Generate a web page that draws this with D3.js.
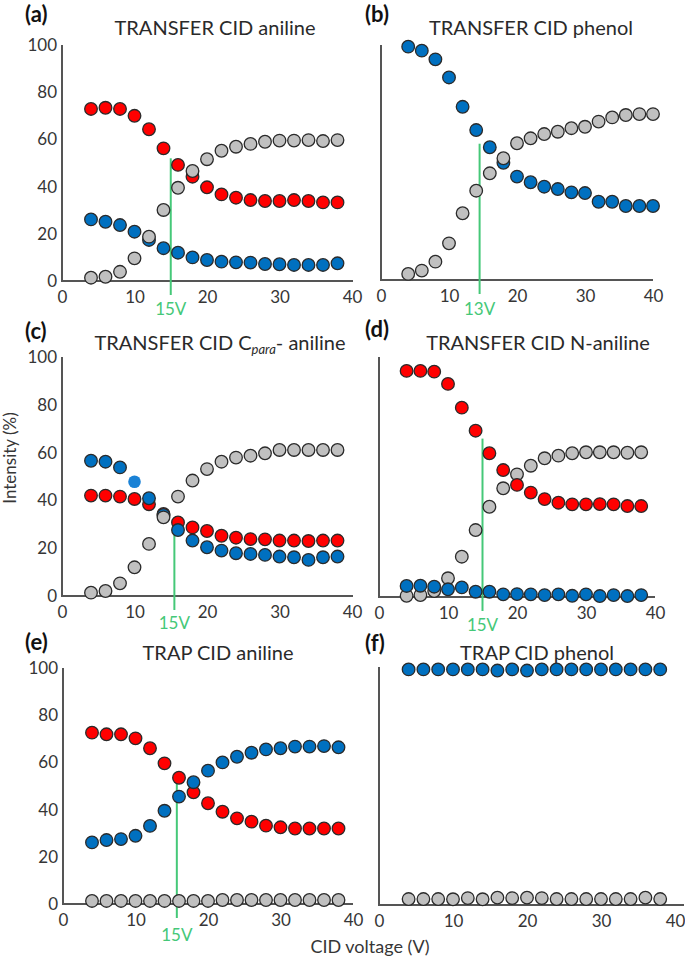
<!DOCTYPE html>
<html><head><meta charset="utf-8">
<script src="https://cdn.jsdelivr.net/npm/d3@7"></script>
<style>
body{margin:0;background:#fff;}
svg{display:block;font-family:Lato,"Open Sans",sans-serif;}
</style></head><body>
<svg id="chart" width="685" height="957"></svg>
<script>
// ---------- data ----------
const xs18 = [4,6,8,10,12,14,16,18,20,22,24,26,28,30,32,34,36,38];
const xs19 = [4,6,8,10,12,14,16,18,20,22,24,26,28,30,32,34,36,38,40];
const xTickVals = [0,10,20,30,40];
const yTickVals = [0,20,40,60,80,100];

const aRed  = [72.9,73.4,72.9,70.0,64.3,56.2,49.2,44.2,39.7,36.7,35.3,34.3,33.9,33.9,34.3,33.9,33.3,33.3];
const aBlue = [26.1,25.1,23.7,20.9,17.4,13.9,12.0,10.0,8.9,8.2,7.9,7.8,7.2,7.1,6.8,6.8,6.8,7.5];
const aGray = [1.4,1.8,3.9,9.6,18.8,30.1,39.5,46.6,51.6,55.2,56.9,58.1,59.0,59.5,59.5,59.7,59.3,59.7];

const bBlue = [99.3,97.6,93.9,86.2,73.7,63.8,56.5,49.9,44.0,41.6,39.7,38.7,37.3,37.0,33.3,33.3,31.5,31.5,31.5];
const bGray = [2.6,4.0,7.8,15.6,28.4,38.0,45.4,51.8,58.2,60.3,62.1,63.1,64.6,65.2,67.4,69.2,70.2,70.6,70.6];

const cRed  = [42.0,42.0,41.6,40.6,38.4,34.3,30.8,28.7,27.2,25.2,24.4,23.8,23.7,23.2,23.2,23.0,23.2,23.2];
const cBlue = [56.6,56.2,53.8,47.8,40.9,33.9,27.6,23.2,20.4,19.0,17.9,17.6,17.2,16.5,16.2,15.1,16.2,16.5];
const cGray = [1.4,2.1,5.3,12.0,21.8,32.9,41.6,48.3,53.1,56.2,57.9,58.7,59.7,61.1,61.1,61.1,61.1,61.1];

const dRed  = [94.2,94.2,93.9,88.8,78.9,69.3,59.9,52.9,46.7,43.5,40.8,39.3,38.6,38.6,38.7,38.6,37.9,37.9];
const dBlue = [4.6,4.7,4.3,3.2,4.0,2.2,2.2,1.1,1.2,1.1,0.8,1.1,0.5,1.1,0.4,0.8,0.4,0.8];
const dGray = [0.5,0.8,2.5,7.8,16.8,27.9,37.6,45.3,51.1,54.7,57.8,58.9,59.9,60.3,60.3,60.3,60.1,60.3];

const eRed  = [72.6,71.9,71.9,70.2,66.0,59.6,53.5,47.3,42.7,39.1,36.3,34.9,33.2,32.5,32.0,32.0,32.0,32.0];
const eBlue = [26.1,27.1,27.5,28.9,33.1,39.5,45.5,51.6,56.5,60.0,62.4,64.1,65.5,66.0,66.7,66.7,66.9,66.4];
const eGray = [1.3,1.3,1.3,1.3,1.3,1.3,1.3,1.3,1.3,1.7,1.7,1.7,1.7,1.7,1.7,1.7,1.7,1.7];

const fBlue = [99.0,99.0,99.0,99.0,99.0,99.0,98.5,99.0,98.5,99.0,99.0,99.0,99.0,99.0,99.0,99.0,99.0,99.0];
const fGray = [2.5,2.5,2.5,2.4,2.9,2.4,3.1,2.9,3.1,2.9,2.5,2.5,2.5,2.5,2.5,2.5,3.1,2.5];

const panelLetters = ["(a)","(b)","(c)","(d)","(e)","(f)"];
const panelTitles = ["TRANSFER CID aniline","TRANSFER CID phenol",null,"TRANSFER CID N-aniline","TRAP CID aniline","TRAP CID phenol"];
const markerX     = [15,14.5,15.5,15,15.7,null];
const markerTop   = [52,58,27,66,52.5,null];
const markerLabel = ["15V","13V","15V","15V","15V",null];

// ---------- styles / layout ----------
const COL = {red:"#ff0000", blue:"#0070c0", gray:"#c0c0c0"};
const GREEN = "#45c878";
const TXT = "#363636";
const AX = "#555555";

const panels = [
  {xr:[62,352], yr:[281,45], axEnd:353, showY:true, xs:xs18, series:[["red",aRed],["blue",aBlue],["gray",aGray]],
   letter:[25,22], title:[215,35], lblDy:28},
  {xr:[381,653], yr:[280,45], axEnd:653, showY:false, xs:xs19, series:[["blue",bBlue],["gray",bGray]],
   letter:[365,22], title:[531,35], lblDy:29},
  {xr:[62,352], yr:[596,357], axEnd:353, showY:true, xs:xs18, series:[["red",cRed],["blue",cBlue],["gray",cGray]],
   letter:[25,339], title:[220,350], lblDy:27, plain:{blue:3}},
  {xr:[379,655], yr:[597,357], axEnd:655, showY:false, xs:xs18, series:[["gray",dGray],["blue",dBlue],["red",dRed]],
   letter:[365,337], title:[538,350], lblDy:28},
  {xr:[63,353], yr:[904,668], axEnd:353, showY:true, xs:xs18, series:[["gray",eGray],["red",eRed],["blue",eBlue]],
   letter:[25,650], title:[218,660], lblDy:31},
  {xr:[379,675], yr:[905,667], axEnd:684, showY:false, xs:xs18, series:[["blue",fBlue],["gray",fGray]],
   letter:[365,651], title:[537,660], lblDy:28}
];

const svg = d3.select("#chart");

panels.forEach((p, i) => {
  const x = d3.scaleLinear().domain([0,40]).range(p.xr);
  const y = d3.scaleLinear().domain([0,100]).range(p.yr);
  const g = svg.append("g");

  // axis lines
  g.append("line").attr("x1", p.xr[0]).attr("x2", p.xr[0]).attr("y1", y(0)).attr("y2", y(100))
    .attr("stroke", AX).attr("stroke-width", 2);
  g.append("line").attr("x1", p.xr[0]-1).attr("x2", p.axEnd).attr("y1", y(0)).attr("y2", y(0))
    .attr("stroke", AX).attr("stroke-width", 2);

  // tick labels
  const xa = g.append("g").attr("transform", `translate(0,${y(0)})`)
    .call(d3.axisBottom(x).tickValues(xTickVals).tickSize(0).tickPadding(10));
  xa.select(".domain").remove();
  xa.selectAll("text").attr("font-size", 17).attr("fill", TXT).attr("font-family", "Lato, sans-serif");

  if (p.showY) {
    const ya = g.append("g").attr("transform", `translate(${p.xr[0]},0)`)
      .call(d3.axisLeft(y).tickValues(yTickVals).tickSize(0).tickPadding(5));
    ya.select(".domain").remove();
    ya.selectAll("text").attr("font-size", 17).attr("fill", TXT).attr("font-family", "Lato, sans-serif");
  }

  // marker line
  if (markerX[i] !== null) {
    g.append("line").attr("x1", x(markerX[i])).attr("x2", x(markerX[i]))
      .attr("y1", y(markerTop[i])).attr("y2", y(0) + 14)
      .attr("stroke", GREEN).attr("stroke-width", 2);
    g.append("text").attr("x", x(markerX[i])).attr("y", y(0) + p.lblDy + 6)
      .attr("text-anchor", "middle").attr("font-size", 17).attr("fill", GREEN)
      .text(markerLabel[i]);
  }

  // points
  p.series.forEach(([c, vals]) => {
    const plainIdx = p.plain && p.plain[c] !== undefined ? p.plain[c] : -1;
    g.append("g").selectAll("circle").data(vals).join("circle")
      .attr("cx", (d, j) => x(p.xs[j]))
      .attr("cy", d => y(d))
      .attr("r", 6.3)
      .attr("fill", (d, j) => j === plainIdx ? "#1a82d6" : COL[c])
      .attr("stroke", (d, j) => j === plainIdx ? "none" : "#2a2a2a")
      .attr("stroke-width", 1.3);
  });

  // letter
  g.append("text").attr("x", p.letter[0]).attr("y", p.letter[1])
    .attr("font-size", 22).attr("font-weight", "bold").attr("fill", "#111")
    .text(panelLetters[i]);

  // title
  const t = g.append("text").attr("x", p.title[0]).attr("y", p.title[1])
    .attr("text-anchor", "middle").attr("font-size", 20).attr("fill", "#2a2a2a");
  if (panelTitles[i] !== null) {
    t.text(panelTitles[i]);
  } else {
    t.append("tspan").text("TRANSFER CID C");
    t.append("tspan").attr("font-style", "italic").attr("font-size", 13).attr("dy", 4).text("para");
    t.append("tspan").attr("dy", -4).text("- aniline");
  }
});

// axis titles
svg.append("text").attr("transform", "translate(16,458) rotate(-90)")
  .attr("text-anchor", "middle").attr("font-size", 17).attr("fill", TXT).text("Intensity (%)");
svg.append("text").attr("x", 370).attr("y", 953)
  .attr("text-anchor", "middle").attr("font-size", 18).attr("fill", TXT).text("CID voltage (V)");
</script>
</body></html>
